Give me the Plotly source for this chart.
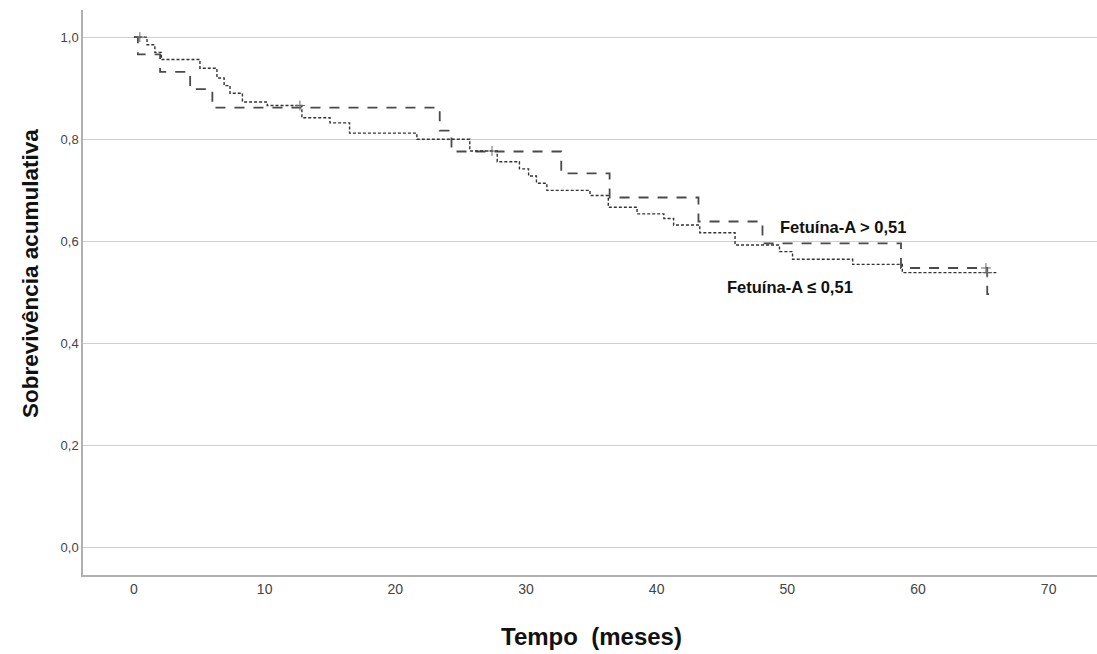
import plotly.graph_objects as go

# Fetuína-A > 0,51 (dashed)
high_time = [0, 0.3, 2.0, 4.3, 6.0, 23.4, 24.3, 32.7, 36.4, 43.2, 48.1, 58.7, 65.3, 65.6]
high_surv = [1.0, 0.966, 0.932, 0.898, 0.862, 0.817, 0.776, 0.733, 0.686, 0.639, 0.596, 0.548, 0.497, 0.497]
high_cens_time = [0.45, 65.2]
high_cens_surv = [1.0, 0.548]

# Fetuína-A ≤ 0,51 (dotted)
low_time = [0, 1.0, 1.6, 2.1, 5.05, 6.35, 6.9, 7.35, 8.3, 10.2, 12.85, 15.0, 16.5, 21.65, 25.7,
            27.8, 29.5, 30.2, 30.8, 31.6, 34.9, 36.3, 38.5, 40.55, 41.3, 43.3, 46.0, 49.4, 50.4,
            55.0, 58.8, 66.0]
low_surv = [1.0, 0.985, 0.970, 0.956, 0.939, 0.92, 0.905, 0.890, 0.873, 0.866, 0.842, 0.832, 0.812,
            0.800, 0.777, 0.756, 0.742, 0.728, 0.714, 0.700, 0.690, 0.667, 0.654, 0.645, 0.632,
            0.617, 0.593, 0.580, 0.565, 0.555, 0.539, 0.539]
low_cens_time = [12.7, 27.4, 65.3]
low_cens_surv = [0.866, 0.777, 0.539]

x_ticks = [0, 10, 20, 30, 40, 50, 60, 70]
y_ticks = [0.0, 0.2, 0.4, 0.6, 0.8, 1.0]
y_tick_labels = ["0,0", "0,2", "0,4", "0,6", "0,8", "1,0"]

L, R, T, B = 83, 0, 10, 79
W, H = 1097, 654
pw, ph = W - L - R, H - T - B

fig = go.Figure()
fig.add_trace(go.Scatter(x=high_time, y=high_surv, mode="lines", line_shape="hv",
                         line=dict(color="#4a4a4a", width=1.8, dash="10px,9px"),
                         showlegend=False, hoverinfo="skip"))
fig.add_trace(go.Scatter(x=low_time, y=low_surv, mode="lines", line_shape="hv",
                         line=dict(color="#333333", width=1.4, dash="3px,2px"),
                         showlegend=False, hoverinfo="skip"))
fig.add_trace(go.Scatter(x=high_cens_time, y=high_cens_surv, mode="markers",
                         marker=dict(symbol="cross-thin", size=7, line=dict(color="#666", width=1)),
                         showlegend=False, hoverinfo="skip"))
fig.add_trace(go.Scatter(x=low_cens_time, y=low_cens_surv, mode="markers",
                         marker=dict(symbol="cross-thin", size=7, line=dict(color="#666", width=1)),
                         showlegend=False, hoverinfo="skip"))

fig.add_annotation(x=49.3, y=0.628, xref="x", yref="y", text="<b>Fetuína-A &gt; 0,51</b>",
                   showarrow=False, xanchor="left", yanchor="middle",
                   font=dict(family="Arial, Liberation Sans", size=16.5, color="#111"))
fig.add_annotation(x=45.2, y=0.511, xref="x", yref="y", text="<b>Fetuína-A ≤ 0,51</b>",
                   showarrow=False, xanchor="left", yanchor="middle",
                   font=dict(family="Arial, Liberation Sans", size=16.5, color="#111"))

fig.add_annotation(x=(30 - L) / pw, y=(H - B - 274) / ph, xref="paper", yref="paper",
                   text="<b>Sobrevivência acumulativa</b>",
                   showarrow=False, textangle=-90, xanchor="center", yanchor="middle",
                   font=dict(family="Arial, Liberation Sans", size=22.5, color="#111"))
fig.add_annotation(x=(591 - L) / pw, y=(H - B - 636) / ph, xref="paper", yref="paper",
                   text="<b>Tempo \u00a0(meses)</b>",
                   showarrow=False, xanchor="center", yanchor="middle",
                   font=dict(family="Arial, Liberation Sans", size=24, color="#111"))

fig.update_layout(
    width=W, height=H,
    margin=dict(l=L, r=R, t=T, b=B),
    paper_bgcolor="white", plot_bgcolor="white",
    font=dict(family="Arial, Liberation Sans", size=12, color="#444"),
    xaxis=dict(range=[-3.9, 73.7], tickvals=x_ticks, showgrid=False, zeroline=False,
               showline=True, linecolor="#b0b0b0", linewidth=1.5, ticks="", ticklen=0,
               tickfont=dict(size=14, color="#444")),
    yaxis=dict(range=[-0.053, 1.053], tickvals=y_ticks, ticktext=y_tick_labels,
               showgrid=True, gridcolor="#cfcfcf", gridwidth=1.2, zeroline=False,
               showline=True, linecolor="#b0b0b0", linewidth=1.5, ticks="", ticklen=0,
               tickfont=dict(size=13, color="#444")),
)

fig.write_html("out.html")
